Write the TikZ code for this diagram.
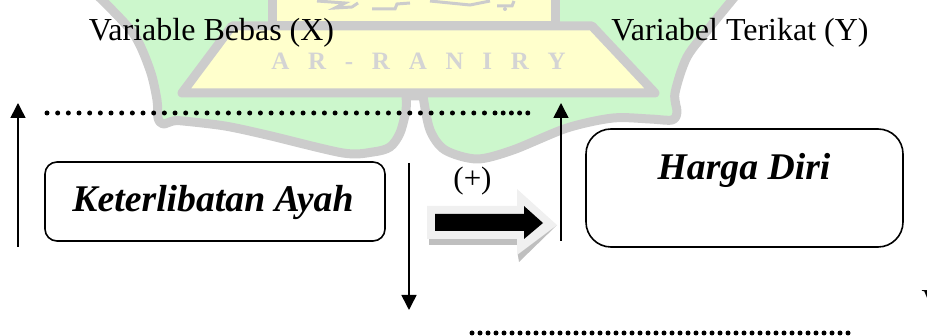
\documentclass[tikz,border=0pt]{standalone}
\usepackage{fontspec}
\setmainfont{Liberation Serif}
\usetikzlibrary{arrows.meta, positioning}
\definecolor{wmgreen}{HTML}{CCF7CC}
\definecolor{wmyellow}{HTML}{FFFFCC}
\definecolor{wmgray}{HTML}{CCCCCC}
\tikzset{
x=1pt, y=-1pt, % coordinates are pixels of the reference
wmline/.style={draw=wmgray, line width=9pt, line join=round}, % outline of the logo
varbox/.style={draw, rounded corners=12pt, line width=1.6pt, fill=white, inner sep=0pt}, % boxes of the variables
vartext/.style={font=\fontsize{37.7}{42}\selectfont\bfseries\itshape, inner sep=0pt}, % text in the boxes
headtext/.style={font=\fontsize{32}{36}\selectfont, inner sep=0pt}, % plain text
flow/.style={-{Triangle[width=15pt, length=15pt]}, line width=1.6pt}, % thin arrows
dotrow/.style={line width=5pt, line cap=round}, % rows of dots
}

\begin{document}
\begin{tikzpicture}
    \useasboundingbox (0,0) rectangle (927,336);
    % logo behind the diagram
    \filldraw[wmline, fill=wmgreen]
        plot[smooth] coordinates {(96,-6) (133,33) (150,70) (157,100) (158,118) (163,124) (173,121) (183,121) (225,126) (267,135) (343,153) (373,152) (390,147) (400,133) (406,110) (406,96)}
        -- plot[smooth] coordinates {(423,96) (430,130) (445,150) (477,159) (513,150) (567,128) (613,118) (650,119) (672,120) (677,112) (675,93) (687,57) (710,27) (737,-6)}
        -- cycle;
    \filldraw[wmline, fill=wmyellow] (272,-10) -- (272,26) -- (555,26) -- (555,-10) -- cycle;
    \filldraw[wmline, fill=wmyellow] (232,26) -- (182,93) -- (655,93) -- (592,26) -- cycle;
    \draw[wmgray, line width=3pt] (317,1) -- (345,3) -- (335,8) -- (352,7) -- (358,3) (372,9) -- (395,9) -- (397,4) -- (410,3) (430,1) -- (470,5) -- (490,1) (497,6) -- (512,6) -- (514,1);
    \fill[wmgray] (505,9) circle (2);
    \node[font=\fontsize{25}{28}\selectfont\bfseries, text=wmgray!85, inner sep=0pt, anchor=base] (wmname) at (418.5,70) {A\ \ \ R\ \ \ -\ \ \ R\ \ \ A\ \ \ N\ \ \ I\ \ \ R\ \ \ Y};

    % labels
    \node[headtext, anchor=base] (varx) at (211.5,41) {Variable Bebas (X)};
    \node[headtext, anchor=base] (vary) at (740,41) {Variabel Terikat (Y)};
    \node[headtext, font=\fontsize{31}{36}\selectfont] (plus) at (472.5,181) {(+)};
    \node[headtext, anchor=base west] (cutv) at (921.5,312) {V};

    % boxes
    \node[varbox, minimum width=340pt, minimum height=79pt] (ayah) at (215,201.5) {};
    \node[vartext, anchor=base] (ayahtext) at (213,212) {Keterlibatan Ayah};
    \node[varbox, rounded corners=25pt, minimum width=317pt, minimum height=118pt] (harga) at (744.5,188) {};
    \node[vartext, anchor=base] (hargatext) at (744,180) {Harga Diri};

    % ends of the arrows and of the dots
    \coordinate (lefta) at (18,247);
    \coordinate (leftb) at (18,103);
    \coordinate (downa) at (409,163);
    \coordinate (downb) at (409,310);
    \coordinate (upa) at (561,241);
    \coordinate (upb) at (561,103);
    \coordinate (dota) at (47,113);
    \coordinate (dotb) at (487,113);
    \coordinate (dotc) at (495,113);
    \coordinate (dotd) at (528,113);
    \coordinate (dote) at (472,333);
    \coordinate (dotf) at (853,333);
    \draw[flow] (lefta) -- (leftb);
    \draw[flow] (downa) -- (downb);
    \draw[flow] (upa) -- (upb);
    \draw[dotrow, dash pattern=on 0pt off 10.67pt] (dota) -- (dotb);
    \draw[dotrow, dash pattern=on 0pt off 8.2pt] (dotc) -- (dotd);
    \draw[dotrow, dash pattern=on 0pt off 8pt] (dote) -- (dotf);

    % block arrow
    \fill[black!25] (429,239) -- (517,239) -- (517,245) -- (429,245) -- cycle;
    \fill[black!25] (517,250) -- (557,225) -- (519,262) -- cycle;
    \fill[black!6] (427,206) -- (517,206) -- (517,189) -- (557,225) -- (517,255) -- (517,239) -- (427,239) -- cycle;
    \fill[black] (435,214) -- (524,214) -- (524,206) -- (543,223) -- (524,239) -- (524,231) -- (435,231) -- cycle;
\end{tikzpicture}
\end{document}
